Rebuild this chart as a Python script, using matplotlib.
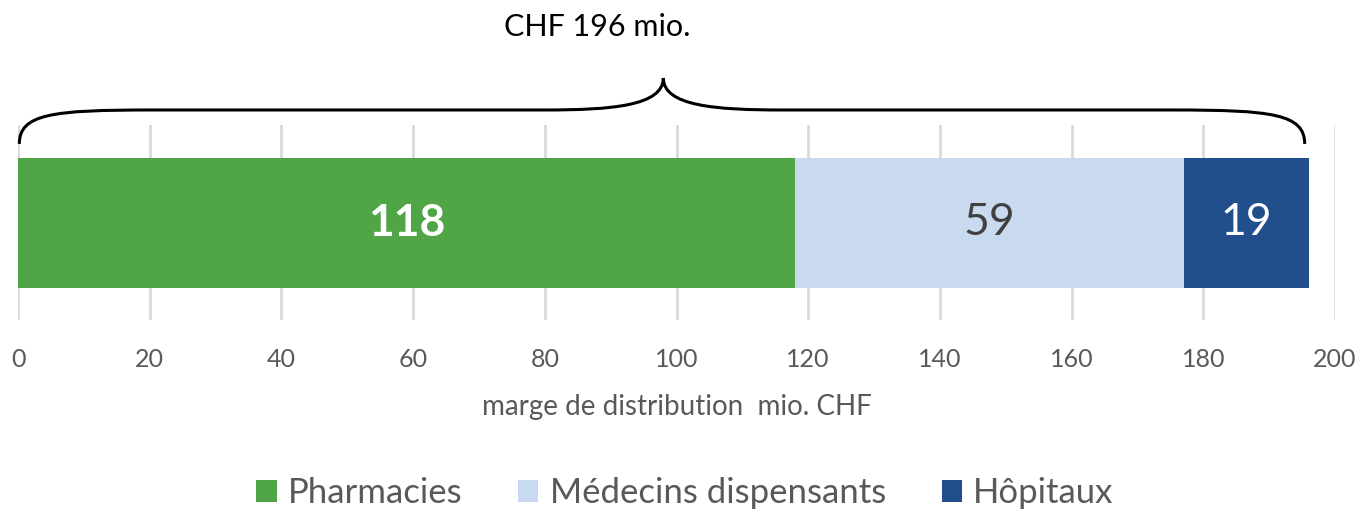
import matplotlib.pyplot as plt
from matplotlib.path import Path
from matplotlib.patches import PathPatch
import matplotlib.transforms as mtransforms

plt.rcParams['font.family'] = ['Lato', 'DejaVu Sans']

categories = ["Pharmacies", "Médecins dispensants", "Hôpitaux"]
values = [118, 59, 19]
colors = ["#50A646", "#C9D9F0", "#214F8C"]
label_colors = ["white", "#404040", "white"]
label_weights = ["bold", "normal", "normal"]
xticks = [0, 20, 40, 60, 80, 100, 120, 140, 160, 180, 200]
total = sum(values)

fig = plt.figure(figsize=(13.68, 5.12), dpi=100)
ax = fig.add_axes([18 / 1368, 1 - 320 / 512, 1317 / 1368, 195 / 512])

left = 0
for cat, v, c, lc, lw in zip(categories, values, colors, label_colors, label_weights):
    ax.barh(0.5, v, left=left, height=130 / 195, color=c, label=cat, zorder=3)
    ax.text(left + v / 2, 0.5, str(v), ha="center", va="center",
            color=lc, fontsize=32, fontweight=lw, zorder=4)
    left += v

ax.set_xlim(0, 200)
ax.set_ylim(0, 1)
ax.set_xticks(xticks)
ax.set_yticks([])
ax.grid(axis="x", color="#D9D9D9", linewidth=2, zorder=0)
for s in ax.spines.values():
    s.set_visible(False)
ax.tick_params(axis="x", length=0, labelsize=18, labelcolor="#595959", pad=20)
ax.set_xlabel("marge de distribution  mio. CHF", fontsize=20, color="#595959", va="center")
ax.xaxis.set_label_coords(0.5, (320 - 407) / 195)

# curly brace above the total
trans = mtransforms.blended_transform_factory(ax.transData, ax.transAxes)
x0, x1 = 0.2, total - 0.6
mid = total / 2
yb, yl, yt = 0.903, 1.077, 1.241
verts = [
    (x0, yb), (x0, yl - 0.02), (x0 + 5, yl), (x0 + 20, yl),
    (mid - 18, yl),
    (mid - 8, yl), (mid, yl + 0.02), (mid, yt),
    (mid, yl + 0.02), (mid + 8, yl), (mid + 18, yl),
    (x1 - 20, yl),
    (x1 - 5, yl), (x1, yl - 0.02), (x1, yb),
]
codes = [Path.MOVETO, Path.CURVE4, Path.CURVE4, Path.CURVE4,
         Path.LINETO,
         Path.CURVE4, Path.CURVE4, Path.CURVE4,
         Path.CURVE4, Path.CURVE4, Path.CURVE4,
         Path.LINETO,
         Path.CURVE4, Path.CURVE4, Path.CURVE4]
ax.add_patch(PathPatch(Path(verts, codes), transform=trans, fill=False,
                       lw=2.2, edgecolor="black", clip_on=False, zorder=5))
fig.text(597 / 1368, 1 - 27 / 512, f"CHF {total} mio.", ha="center", va="center",
         fontsize=22, color="black")

fig.legend(loc="center", bbox_to_anchor=(685 / 1368, 1 - 493 / 512), ncol=3, frameon=False,
           fontsize=25, labelcolor="#595959", handlelength=0.58, handleheight=0.58,
           handletextpad=0.33, columnspacing=1.6)

fig.savefig("out.png", dpi=100)
